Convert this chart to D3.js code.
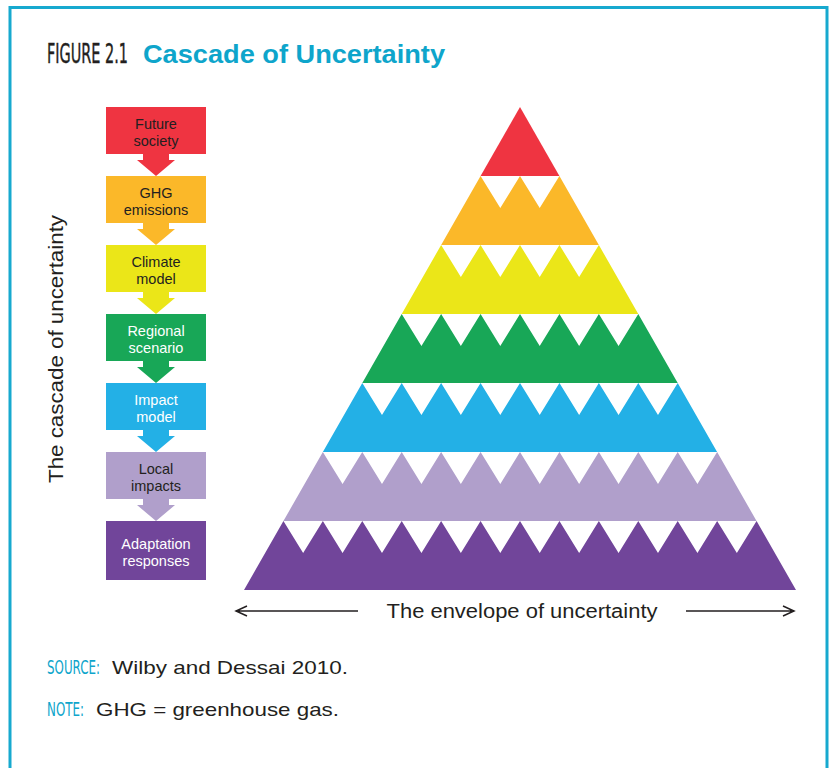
<!DOCTYPE html>
<html>
<head>
    <meta charset="utf-8">
    <title>Cascade of Uncertainty</title>
    <script src="https://cdn.jsdelivr.net/npm/d3@7"></script>
    <style>
      body { margin: 0; background: #fff; }
      svg { display: block; font-family: "Liberation Sans", Arial, sans-serif; }
    </style>
</head>
<body>
<svg id="vis" width="829" height="768"></svg>
<script>
    // stages of the cascade, top to bottom
    var stageLines = [
        ["Future", "society"],
        ["GHG", "emissions"],
        ["Climate", "model"],
        ["Regional", "scenario"],
        ["Impact", "model"],
        ["Local", "impacts"],
        ["Adaptation", "responses"]
    ];
    var stageColors = ["#ef3441", "#fbb829", "#ebe618", "#18a757", "#23b0e6", "#b09fcb", "#71459a"];
    var stageText   = ["#231f20", "#231f20", "#231f20", "#ffffff", "#ffffff", "#231f20", "#ffffff"];
    // white notches along the top edge of each pyramid band
    var notches = [0, 2, 4, 6, 8, 10, 12];

    var svg = d3.select("#vis");
    var cyan = "#0ea5cb";
    var narrow = "'Liberation Sans Narrow', 'DejaVu Sans Condensed', sans-serif";

    // squeeze a condensed label into a given width with a transform
    function squeezed(x, yy, size, fill, width, str) {
        var t = svg.append("text").attr("font-family", narrow)
            .attr("font-size", size).attr("fill", fill).text(str);
        var w = t.node().getComputedTextLength();
        t.attr("transform", "translate(" + x + "," + yy + ") scale(" + (width / w) + ",1)");
        return t;
    }

    // frame
    svg.append("path")
        .attr("d", "M10,768 L10,7.5 L827,7.5 L827,768")
        .attr("fill", "none").attr("stroke", "#17a9cf").attr("stroke-width", 3);

    // title
    squeezed(47, 63, 26, "#231f20", 81, "FIGURE 2.1")
        .attr("stroke", "#231f20").attr("stroke-width", 0.4);
    svg.append("text").attr("x", 143).attr("y", 63)
        .attr("font-size", 26).attr("font-weight", "bold").attr("fill", cyan)
        .attr("textLength", 302).attr("lengthAdjust", "spacingAndGlyphs")
        .text("Cascade of Uncertainty");

    // scales: level -> y, level -> half width of pyramid
    var n = stageLines.length;
    var y = d3.scaleLinear().domain([0, n]).range([107, 590]);
    var hw = d3.scaleLinear().domain([0, n]).range([0, 276]);
    var cx = 520;
    var depth = 32;

    var bands = svg.append("g");
    stageColors.forEach(function (col, i) {
        var y0 = y(i), y1 = y(i + 1), w0 = hw(i), w1 = hw(i + 1);
        var pts = [[cx - w1, y1], [cx + w1, y1], [cx + w0, y0]];
        var k = notches[i];
        if (k === 0) {
            pts.push([cx, y0]);
        } else {
            var step = 2 * w0 / k;
            for (var j = k - 1; j >= 0; j--) {
                pts.push([cx - w0 + (j + 0.5) * step, y0 + depth]);
                pts.push([cx - w0 + j * step, y0]);
            }
        }
        bands.append("path")
            .attr("d", d3.line()(pts) + "Z")
            .attr("fill", col);
    });

    // cascade boxes on the left
    var bx = 106, bw = 100;
    var boxH = function (i) { return i === n - 1 ? 59 : 47; };
    var boxes = svg.append("g");
    stageLines.forEach(function (lines, i) {
        var top = y(i);
        var h = boxH(i);
        boxes.append("rect").attr("x", bx).attr("y", top)
            .attr("width", bw).attr("height", h).attr("fill", stageColors[i]);
        var mid = top + h / 2;
        boxes.append("text").attr("x", bx + bw / 2).attr("y", mid - 1.5)
            .attr("text-anchor", "middle").attr("font-size", 14.5)
            .attr("fill", stageText[i]).text(lines[0]);
        boxes.append("text").attr("x", bx + bw / 2).attr("y", mid + 15.5)
            .attr("text-anchor", "middle").attr("font-size", 14.5)
            .attr("fill", stageText[i]).text(lines[1]);
        if (i < n - 1) {
            var b = top + h, nt = y(i + 1), m = bx + bw / 2;
            var a = [[m - 13, b], [m + 13, b], [m + 13, b + 6], [m + 19, b + 6],
                     [m, nt], [m - 19, b + 6], [m - 13, b + 6]];
            boxes.append("path").attr("d", d3.line()(a) + "Z").attr("fill", stageColors[i]);
        }
    });

    // axis labels
    svg.append("text")
        .attr("transform", "translate(63,349) rotate(-90)")
        .attr("text-anchor", "middle").attr("font-size", 20).attr("fill", "#231f20")
        .attr("textLength", 268).attr("lengthAdjust", "spacingAndGlyphs")
        .text("The cascade of uncertainty");
    svg.append("text").attr("x", 522).attr("y", 618)
        .attr("text-anchor", "middle").attr("font-size", 20).attr("fill", "#231f20")
        .attr("textLength", 271).attr("lengthAdjust", "spacingAndGlyphs")
        .text("The envelope of uncertainty");

    var arr = svg.append("g").attr("stroke", "#231f20").attr("stroke-width", 1.5).attr("fill", "none");
    arr.append("path").attr("d", "M236,611 L358,611 M247,606 L236,611 L247,616");
    arr.append("path").attr("d", "M686,611 L794,611 M783,606 L794,611 L783,616");

    // source and note
    var foot = [["SOURCE:", 47, 53, "Wilby and Dessai 2010.", 112, 236, 674],
                ["NOTE:", 47, 37, "GHG = greenhouse gas.", 96, 243, 716]];
    foot.forEach(function (f) {
        squeezed(f[1], f[6], 19, cyan, f[2], f[0]);
        svg.append("text").attr("x", f[4]).attr("y", f[6])
            .attr("font-size", 19).attr("fill", "#231f20")
            .attr("textLength", f[5]).attr("lengthAdjust", "spacingAndGlyphs")
            .text(f[3]);
    });
</script>
</body>
</html>
